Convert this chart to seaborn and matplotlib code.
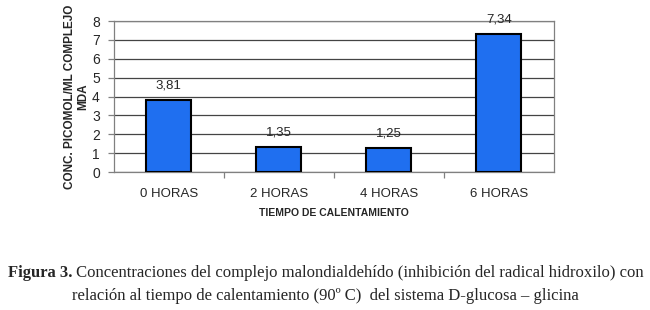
import numpy as np
import pandas as pd
import matplotlib
matplotlib.use("Agg")
import matplotlib.pyplot as plt
import seaborn as sns

# Data
categories = ["0 HORAS", "2 HORAS", "4 HORAS", "6 HORAS"]
values = [3.81, 1.35, 1.25, 7.34]
value_labels = ["3,81", "1,35", "1,25", "7,34"]
y_ticks = [0, 1, 2, 3, 4, 5, 6, 7, 8]

df = pd.DataFrame({"tiempo": categories, "conc": values})

sns.set_style("white")
plt.rcParams['font.family'] = ['Liberation Sans', 'DejaVu Sans']

fig = plt.figure(figsize=(6.5, 3.1), dpi=100)
ax = fig.add_axes([0.175, 0.445, 0.677, 0.487])

sns.barplot(data=df, x="tiempo", y="conc", color="#1f6ff0", width=0.41,
            edgecolor="black", linewidth=1.5, saturation=1, ax=ax, zorder=3)

ax.set_ylim(0, 8)
ax.set_xlim(-0.5, 3.5)
ax.set_yticks(y_ticks)
ax.yaxis.grid(True, color="#444444", linewidth=0.9, zorder=0)
ax.set_axisbelow(True)

for sp in ["top", "right", "left", "bottom"]:
    ax.spines[sp].set_color("#808080")
    ax.spines[sp].set_linewidth(0.9)

# ticks: y ticks to the left, x ticks at category boundaries
ax.tick_params(axis="y", which="both", left=True, length=4, width=0.9,
               color="#808080", labelsize=10, pad=6)
ax.set_xticks(range(len(categories)))
ax.set_xticklabels(categories, fontsize=9.5)
ax.tick_params(axis="x", which="major", bottom=False, pad=8)
ax.set_xticks([0.5, 1.5, 2.5], minor=True)
ax.tick_params(axis="x", which="minor", bottom=True, length=4, width=0.9,
               color="#808080")

for i, (v, lab) in enumerate(zip(values, value_labels)):
    ax.text(i, v + 0.45, lab, ha="center", va="bottom", fontsize=9.5)

ax.set_xlabel("TIEMPO DE CALENTAMIENTO", fontsize=7.5, fontweight="bold", labelpad=6)
ax.set_ylabel("CONC. PICOMOL/ML COMPLEJO\nMDA", fontsize=8.5, fontweight="bold",
              labelpad=2, linespacing=1.15)

# caption: bold "Figura 3." followed by normal text, centred as a whole
serif = ["Liberation Serif", "DejaVu Serif"]
cap_size = 12
fig.canvas.draw()
renderer = fig.canvas.get_renderer()
t_bold = fig.text(0, 0.119, "Figura 3.", ha="left", va="center",
                  fontsize=cap_size, fontweight="bold", family=serif)
t_rest = fig.text(0, 0.119,
                  " Concentraciones del complejo malondialdehído (inhibición del radical hidroxilo) con",
                  ha="left", va="center", fontsize=cap_size, family=serif)
w_bold = t_bold.get_window_extent(renderer).width
w_rest = t_rest.get_window_extent(renderer).width
fig_w = fig.bbox.width
x0 = (fig_w - (w_bold + w_rest)) / 2 + 1
t_bold.set_x(x0 / fig_w)
t_rest.set_x((x0 + w_bold) / fig_w)

fig.text(0.5, 0.045,
         "relación al tiempo de calentamiento (90º C)  del sistema D-glucosa – glicina",
         ha="center", va="center", fontsize=cap_size, family=serif)

fig.savefig("out.png", dpi=100, facecolor="white")
